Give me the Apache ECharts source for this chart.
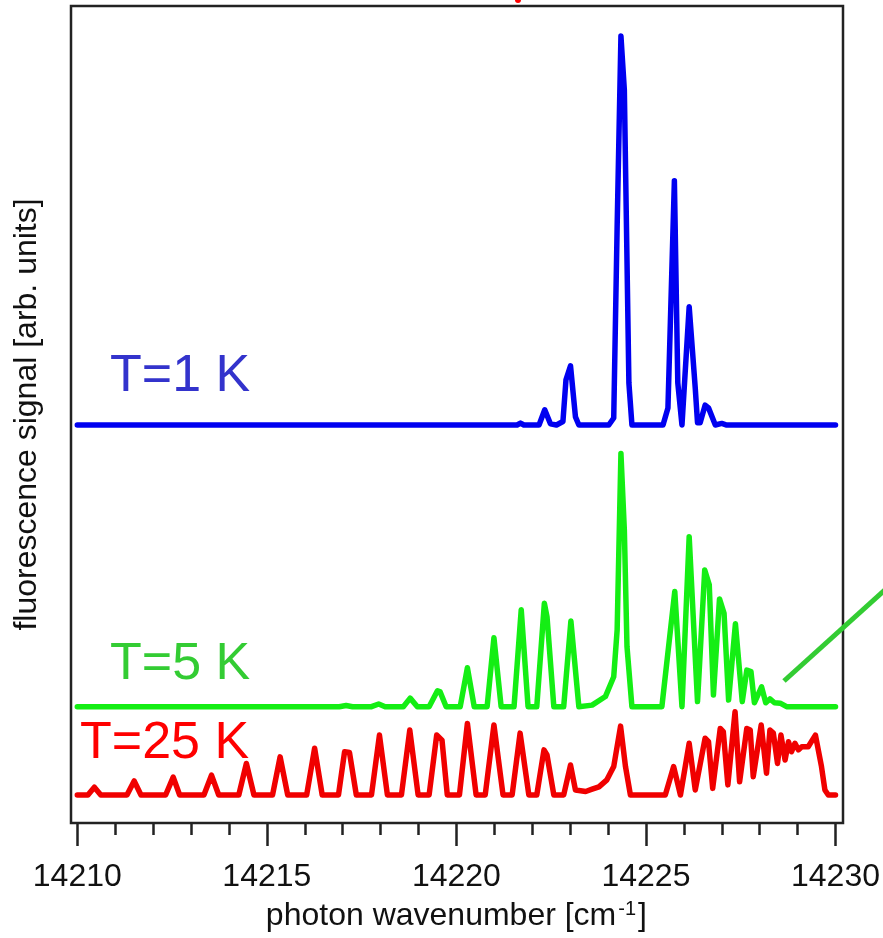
<!DOCTYPE html>
<html>
<head>
<meta charset="utf-8">
<script src="https://cdn.jsdelivr.net/npm/echarts@6/dist/echarts.min.js"></script>
<style>
html, body { margin: 0; padding: 0; background: #fff; }
#chart { width: 883px; height: 938px; }
</style>
</head>
<body>
<div id="chart"></div>
<script>
// spectra: [wavenumber cm-1, signal (arb. units, main T=1 K line = 100)]
var spec1K = [
  [14210.00, 0], [14221.60, 0], [14221.69, 0.5], [14221.78, 0],
  [14222.18, 0], [14222.33, 3.9], [14222.48, 0.3], [14222.64, 0],
  [14222.81, 0.9], [14222.89, 11.6], [14223.01, 15.2], [14223.14, 2.1], [14223.23, 0],
  [14224.02, 0], [14224.15, 1.8], [14224.24, 51.0], [14224.34, 100], [14224.43, 86.1],
  [14224.55, 10.8], [14224.63, 0],
  [14225.45, 0], [14225.58, 4.4], [14225.75, 62.8], [14225.84, 10.8], [14225.95, 0],
  [14226.14, 30.4], [14226.30, 9.5], [14226.36, 0.6], [14226.43, 0.6],
  [14226.56, 5.1], [14226.65, 4.4], [14226.83, 0], [14227.00, 0.4], [14227.13, 0],
  [14230.00, 0]
];

var spec5K = [
  [14210.00, 0], [14216.91, 0], [14217.09, 0.3], [14217.26, 0],
  [14217.76, 0], [14217.95, 0.7], [14218.12, 0],
  [14218.60, 0], [14218.78, 2.2], [14218.97, 0],
  [14219.28, 0], [14219.50, 4.1], [14219.57, 3.8], [14219.73, 0],
  [14220.10, 0], [14220.29, 10.0], [14220.47, 0],
  [14220.81, 0], [14220.99, 17.7], [14221.18, 0],
  [14221.52, 0], [14221.71, 24.9], [14221.89, 0],
  [14222.12, 0], [14222.32, 26.6], [14222.39, 23.1], [14222.57, 0],
  [14222.83, 0], [14223.02, 22.0], [14223.23, 0],
  [14223.58, 0.4], [14223.93, 2.6], [14224.15, 7.7], [14224.24, 19.7],
  [14224.34, 65.1], [14224.43, 45.4], [14224.50, 15.4], [14224.63, 0],
  [14225.42, 0], [14225.76, 29.6], [14225.95, 0],
  [14226.14, 43.7], [14226.36, 1.3], [14226.55, 35.1], [14226.67, 31.3],
  [14226.78, 3.0], [14226.94, 27.7], [14227.06, 24.0], [14227.18, 1.7],
  [14227.36, 21.3], [14227.54, 1.3], [14227.66, 9.4], [14227.77, 9.0],
  [14227.86, 1.0], [14228.05, 5.1], [14228.16, 1.0], [14228.27, 2.0],
  [14228.39, 1.0], [14228.54, 0.9], [14228.71, 0], [14230.00, 0]
];

var spec25K = [
  [14210.00, 0], [14210.28, 0], [14210.45, 2.0], [14210.62, 0],
  [14211.31, 0], [14211.50, 3.6], [14211.68, 0],
  [14212.33, 0], [14212.53, 4.6], [14212.70, 0],
  [14213.34, 0], [14213.54, 5.1], [14213.73, 0],
  [14214.26, 0], [14214.46, 8.1], [14214.66, 0],
  [14215.15, 0], [14215.35, 9.8], [14215.55, 0],
  [14216.05, 0], [14216.26, 12.0], [14216.46, 0],
  [14216.89, 0], [14217.05, 11.1], [14217.18, 10.9], [14217.36, 0],
  [14217.76, 0], [14217.97, 15.4], [14218.18, 0],
  [14218.55, 0], [14218.77, 16.7], [14218.99, 0],
  [14219.28, 0], [14219.48, 15.4], [14219.62, 14.1], [14219.76, 0],
  [14220.08, 0], [14220.29, 18.4], [14220.52, 0],
  [14220.76, 0], [14220.99, 18.0], [14221.23, 0],
  [14221.47, 0], [14221.68, 15.9], [14221.91, 0],
  [14222.12, 0], [14222.31, 11.6], [14222.39, 10.3], [14222.57, 0],
  [14222.83, 0], [14223.01, 7.7], [14223.14, 1.3], [14223.41, 0.9],
  [14223.58, 1.5], [14223.76, 2.1], [14223.97, 3.9], [14224.15, 7.3],
  [14224.33, 17.7], [14224.46, 7.3], [14224.59, 0],
  [14225.51, 0], [14225.64, 4.3], [14225.73, 7.3], [14225.91, 0],
  [14226.14, 13.3], [14226.30, 1.3], [14226.56, 14.6], [14226.65, 13.7],
  [14226.76, 1.7], [14226.96, 17.1], [14227.04, 16.3], [14227.16, 2.6],
  [14227.35, 21.4], [14227.47, 3.4], [14227.66, 17.1], [14227.75, 16.7],
  [14227.83, 4.7], [14228.04, 18.0], [14228.18, 5.6], [14228.27, 16.7],
  [14228.36, 15.9], [14228.47, 8.1], [14228.56, 15.4], [14228.67, 9.0],
  [14228.76, 13.7], [14228.84, 11.1], [14228.93, 13.3], [14229.02, 11.6],
  [14229.11, 12.4], [14229.28, 12.4], [14229.47, 15.4], [14229.63, 7.3],
  [14229.72, 1.3], [14229.81, 0], [14230.00, 0]
];

// vertical offsets of the stacked traces
var offset1K = 102.3;
var offset5K = 29.9;
var offset25K = 7.2;

var xTicks = [14210, 14215, 14220, 14225, 14230];

var FONT = 'Liberation Sans, Arial, Helvetica, sans-serif';

function shift(arr, off) {
  return arr.map(function (p) { return [p[0], p[1] + off]; });
}

var chart = echarts.init(document.getElementById('chart'));

var lineBase = {
  type: 'line',
  showSymbol: false,
  smooth: false,
  animation: false,
  silent: true
};

var opt = {
  backgroundColor: '#fff',
  grid: { left: 77.3, right: 46.3, top: 6, bottom: 115 },
  xAxis: {
    type: 'value',
    min: xTicks[0],
    max: xTicks[xTicks.length - 1],
    interval: 5,
    name: '{a|photon wavenumber [cm}{s|-1}{a|]}',
    nameLocation: 'middle',
    nameGap: 76,
    nameTextStyle: {
      rich: {
        a: { fontFamily: FONT, fontSize: 32, color: '#111' },
        s: { fontFamily: FONT, fontSize: 20, color: '#111', verticalAlign: 'top', padding: [0, 2, 14, 2] }
      }
    },
    axisLine: { show: false },
    axisTick: { show: true, length: 23, lineStyle: { color: '#222', width: 2.5 } },
    minorTick: { show: true, splitNumber: 5, length: 12, lineStyle: { color: '#222', width: 2.5 } },
    axisLabel: {
      margin: 38, fontFamily: FONT, fontSize: 32, color: '#111',
      formatter: function (v) { return String(v); }
    },
    splitLine: { show: false },
    minorSplitLine: { show: false }
  },
  yAxis: {
    type: 'value',
    min: 0,
    max: 210,
    name: 'fluorescence signal [arb. units]',
    nameLocation: 'middle',
    nameGap: 34,
    nameTextStyle: { fontFamily: FONT, fontSize: 32, color: '#111' },
    axisLine: { show: false },
    axisTick: { show: false },
    axisLabel: { show: false },
    splitLine: { show: false }
  },
  series: [
    Object.assign({}, lineBase, {
      name: 'T=25 K',
      data: shift(spec25K, offset25K),
      lineStyle: { color: '#f00000', width: 5.5, join: 'round', cap: 'round' }
    }),
    Object.assign({}, lineBase, {
      name: 'T=5 K',
      data: shift(spec5K, offset5K),
      lineStyle: { color: '#14ee14', width: 5.5, join: 'round', cap: 'round' }
    }),
    Object.assign({}, lineBase, {
      name: 'T=1 K',
      data: shift(spec1K, offset1K),
      lineStyle: { color: '#0000f0', width: 5.5, join: 'round', cap: 'round' }
    })
  ],
  graphic: [
    {
      type: 'rect', z: 100, silent: true,
      shape: { x: 71, y: 6, width: 772, height: 817 },
      style: { fill: 'none', stroke: '#222', lineWidth: 2.5 }
    },
    {
      type: 'text', z: 100, left: 110, top: 351,
      style: { text: 'T=1 K', fill: '#3333cc', font: '52px ' + FONT }
    },
    {
      type: 'text', z: 100, left: 110, top: 639,
      style: { text: 'T=5 K', fill: '#33cc33', font: '52px ' + FONT }
    },
    {
      type: 'text', z: 100, left: 80, top: 718,
      style: { text: 'T=25 K', fill: '#ff0000', font: '52px ' + FONT }
    },
    {
      type: 'line', z: 101, silent: true,
      shape: { x1: 784, y1: 681, x2: 886, y2: 589 },
      style: { stroke: '#33cc33', lineWidth: 5 }
    },
    {
      type: 'circle', z: 101, silent: true,
      shape: { cx: 518, cy: 0, r: 3 },
      style: { fill: '#ff0000' }
    }
  ]
};

chart.setOption(opt);
</script>
</body>
</html>
